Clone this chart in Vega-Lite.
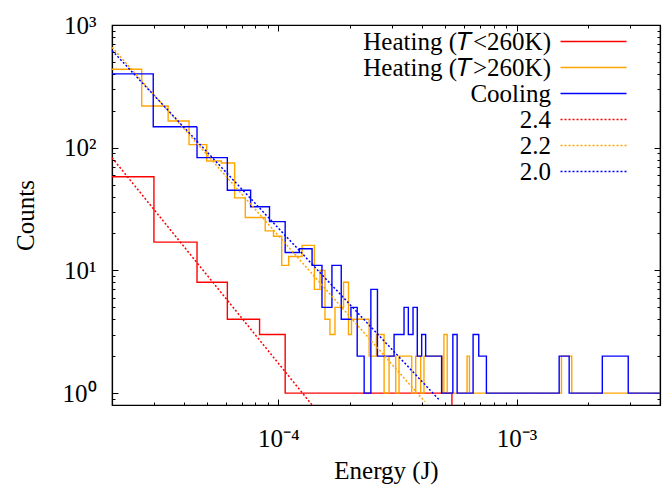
{
  "$schema": "https://vega.github.io/schema/vega-lite/v6.json",
  "width": 548,
  "height": 380,
  "autosize": "none",
  "padding": {"left": 112, "top": 25, "right": 9, "bottom": 80},
  "background": "white",
  "config": {
    "font": "Liberation Serif",
    "view": {"stroke": "black", "strokeWidth": 1.2},
    "axis": {
      "grid": false,
      "domainColor": "black",
      "domainWidth": 1.2,
      "tickColor": "black",
      "tickWidth": 1,
      "labelColor": "black",
      "titleColor": "black",
      "labelFont": "Liberation Serif",
      "titleFont": "Liberation Serif",
      "labelFontSize": 25,
      "titleFontSize": 25,
      "titleFontWeight": "normal",
      "labelFlush": false,
      "labelOverlap": false,
      "labelBound": false
    }
  },
  "datasets": {
    "hist": [
      {"series": "Heating (𝑇<260K)", "energy": 2.0e-5, "count": 58},
      {"series": "Heating (𝑇<260K)", "energy": 3.0e-5, "count": 17},
      {"series": "Heating (𝑇<260K)", "energy": 4.55e-5, "count": 8},
      {"series": "Heating (𝑇<260K)", "energy": 6.10e-5, "count": 4},
      {"series": "Heating (𝑇<260K)", "energy": 8.33e-5, "count": 3},
      {"series": "Heating (𝑇<260K)", "energy": 1.067e-4, "count": 1},
      {"series": "Heating (𝑇<260K)", "energy": 5.35e-4, "count": 0},

      {"series": "Heating (𝑇>260K)", "energy": 2.0e-5, "count": 436},
      {"series": "Heating (𝑇>260K)", "energy": 2.665e-5, "count": 219},
      {"series": "Heating (𝑇>260K)", "energy": 3.441e-5, "count": 165},
      {"series": "Heating (𝑇>260K)", "energy": 4.213e-5, "count": 106},
      {"series": "Heating (𝑇>260K)", "energy": 4.997e-5, "count": 78},
      {"series": "Heating (𝑇>260K)", "energy": 5.758e-5, "count": 75},
      {"series": "Heating (𝑇>260K)", "energy": 6.545e-5, "count": 39},
      {"series": "Heating (𝑇>260K)", "energy": 7.256e-5, "count": 27},
      {"series": "Heating (𝑇>260K)", "energy": 8.799e-5, "count": 21},
      {"series": "Heating (𝑇>260K)", "energy": 9.53e-5, "count": 19},
      {"series": "Heating (𝑇>260K)", "energy": 1.032e-4, "count": 11},
      {"series": "Heating (𝑇>260K)", "energy": 1.104e-4, "count": 13},
      {"series": "Heating (𝑇>260K)", "energy": 1.257e-4, "count": 16},
      {"series": "Heating (𝑇>260K)", "energy": 1.415e-4, "count": 7},
      {"series": "Heating (𝑇>260K)", "energy": 1.494e-4, "count": 10},
      {"series": "Heating (𝑇>260K)", "energy": 1.568e-4, "count": 4},
      {"series": "Heating (𝑇>260K)", "energy": 1.645e-4, "count": 3},
      {"series": "Heating (𝑇>260K)", "energy": 1.727e-4, "count": 5},
      {"series": "Heating (𝑇>260K)", "energy": 1.876e-4, "count": 8},
      {"series": "Heating (𝑇>260K)", "energy": 1.968e-4, "count": 3},
      {"series": "Heating (𝑇>260K)", "energy": 2.026e-4, "count": 4},
      {"series": "Heating (𝑇>260K)", "energy": 2.403e-4, "count": 2},
      {"series": "Heating (𝑇>260K)", "energy": 2.578e-4, "count": 3},
      {"series": "Heating (𝑇>260K)", "energy": 2.777e-4, "count": 1},
      {"series": "Heating (𝑇>260K)", "energy": 2.914e-4, "count": 2},
      {"series": "Heating (𝑇>260K)", "energy": 3.108e-4, "count": 1},
      {"series": "Heating (𝑇>260K)", "energy": 3.208e-4, "count": 2},
      {"series": "Heating (𝑇>260K)", "energy": 3.627e-4, "count": 1},
      {"series": "Heating (𝑇>260K)", "energy": 3.770e-4, "count": 2},
      {"series": "Heating (𝑇>260K)", "energy": 3.955e-4, "count": 1},
      {"series": "Heating (𝑇>260K)", "energy": 4.083e-4, "count": 2},
      {"series": "Heating (𝑇>260K)", "energy": 4.870e-4, "count": 1},
      {"series": "Heating (𝑇>260K)", "energy": 4.951e-4, "count": 3},
      {"series": "Heating (𝑇>260K)", "energy": 5.110e-4, "count": 1},
      {"series": "Heating (𝑇>260K)", "energy": 6.194e-4, "count": 2},
      {"series": "Heating (𝑇>260K)", "energy": 6.340e-4, "count": 1},
      {"series": "Heating (𝑇>260K)", "energy": 1.543e-3, "count": 2},
      {"series": "Heating (𝑇>260K)", "energy": 1.704e-3, "count": 1},
      {"series": "Heating (𝑇>260K)", "energy": 4.0e-3, "count": 1},

      {"series": "Cooling", "energy": 2.0e-5, "count": 400},
      {"series": "Cooling", "energy": 2.98e-5, "count": 148},
      {"series": "Cooling", "energy": 4.55e-5, "count": 83},
      {"series": "Cooling", "energy": 6.10e-5, "count": 45},
      {"series": "Cooling", "energy": 7.64e-5, "count": 33},
      {"series": "Cooling", "energy": 9.17e-5, "count": 25},
      {"series": "Cooling", "energy": 1.067e-4, "count": 14},
      {"series": "Cooling", "energy": 1.224e-4, "count": 15},
      {"series": "Cooling", "energy": 1.384e-4, "count": 11},
      {"series": "Cooling", "energy": 1.523e-4, "count": 5},
      {"series": "Cooling", "energy": 1.677e-4, "count": 11},
      {"series": "Cooling", "energy": 1.835e-4, "count": 4},
      {"series": "Cooling", "energy": 2.015e-4, "count": 5},
      {"series": "Cooling", "energy": 2.141e-4, "count": 2},
      {"series": "Cooling", "energy": 2.290e-4, "count": 1},
      {"series": "Cooling", "energy": 2.443e-4, "count": 7},
      {"series": "Cooling", "energy": 2.604e-4, "count": 2},
      {"series": "Cooling", "energy": 3.058e-4, "count": 3},
      {"series": "Cooling", "energy": 3.367e-4, "count": 5},
      {"series": "Cooling", "energy": 3.510e-4, "count": 3},
      {"series": "Cooling", "energy": 3.673e-4, "count": 5},
      {"series": "Cooling", "energy": 3.827e-4, "count": 2},
      {"series": "Cooling", "energy": 3.993e-4, "count": 3},
      {"series": "Cooling", "energy": 4.150e-4, "count": 2},
      {"series": "Cooling", "energy": 4.842e-4, "count": 1},
      {"series": "Cooling", "energy": 5.398e-4, "count": 3},
      {"series": "Cooling", "energy": 5.626e-4, "count": 1},
      {"series": "Cooling", "energy": 6.565e-4, "count": 3},
      {"series": "Cooling", "energy": 6.934e-4, "count": 2},
      {"series": "Cooling", "energy": 7.467e-4, "count": 1},
      {"series": "Cooling", "energy": 1.509e-3, "count": 2},
      {"series": "Cooling", "energy": 1.662e-3, "count": 1},
      {"series": "Cooling", "energy": 2.290e-3, "count": 2},
      {"series": "Cooling", "energy": 2.942e-3, "count": 1},
      {"series": "Cooling", "energy": 4.0e-3, "count": 1}
    ],
    "fit": [
      {"series": "2.4", "energy": 2.0e-5, "count": 83},
      {"series": "2.4", "energy": 1.384e-4, "count": 0.8},
      {"series": "2.2", "energy": 2.0e-5, "count": 660},
      {"series": "2.2", "energy": 4.12e-4, "count": 0.85},
      {"series": "2.0", "energy": 2.0e-5, "count": 620},
      {"series": "2.0", "energy": 4.76e-4, "count": 0.87}
    ]
  },
  "layer": [
    {
      "data": {"name": "hist"},
      "mark": {"type": "line", "interpolate": "step-after", "strokeWidth": 1.4, "invalid": "show"},
      "encoding": {
        "x": {
          "field": "energy", "type": "quantitative",
          "scale": {"type": "log", "domain": [2e-5, 4e-3], "nice": false, "clamp": true},
          "axis": {
            "orient": "bottom",
            "title": "Energy (J)",
            "titlePadding": 4,
            "values": [2e-5,3e-5,4e-5,5e-5,6e-5,7e-5,8e-5,9e-5,1e-4,2e-4,3e-4,4e-4,5e-4,6e-4,7e-4,8e-4,9e-4,1e-3,2e-3,3e-3,4e-3],
            "labelExpr": "datum.value == 0.0001 ? '10⁻⁴' : datum.value == 0.001 ? '10⁻³' : ''",
            "tickSize": {"condition": {"test": "datum.value == 0.0001 || datum.value == 0.001", "value": -6}, "value": -3},
            "labelPadding": 27
          }
        },
        "y": {
          "field": "count", "type": "quantitative",
          "scale": {"type": "log", "domain": [0.8, 1000], "nice": false, "clamp": true},
          "axis": {
            "orient": "left",
            "title": "Counts",
            "titlePadding": 24,
            "values": [0.8,0.9,1,2,3,4,5,6,7,8,9,10,20,30,40,50,60,70,80,90,100,200,300,400,500,600,700,800,900,1000],
            "labelExpr": "datum.value == 1 ? '10⁰' : datum.value == 10 ? '10¹' : datum.value == 100 ? '10²' : datum.value == 1000 ? '10³' : ''",
            "tickSize": {"condition": {"test": "datum.value == 1 || datum.value == 10 || datum.value == 100 || datum.value == 1000", "value": -6}, "value": -3},
            "labelPadding": 22
          }
        },
        "color": {
          "field": "series", "type": "nominal",
          "scale": {
            "domain": ["Heating (𝑇<260K)", "Heating (𝑇>260K)", "Cooling", "2.4", "2.2", "2.0"],
            "range": ["#ff0000", "#ffa500", "#0000ff", "#ff0000", "#ffa500", "#0000ff"]
          },
          "legend": {
            "title": null, "orient": "none", "legendX": 469, "legendY": 4,
            "symbolType": "M-6.6,0H6.6", "symbolSize": 100, "symbolStrokeWidth": 1.5,
            "labelAlign": "right", "labelOffset": -55, "symbolOffset": 0,
            "labelFontSize": 25, "labelFont": "Liberation Serif", "labelColor": "black",
            "labelLimit": 0, "rowPadding": -0.7, "padding": 0
          }
        },
        "strokeDash": {
          "field": "series", "type": "nominal",
          "scale": {
            "domain": ["Heating (𝑇<260K)", "Heating (𝑇>260K)", "Cooling", "2.4", "2.2", "2.0"],
            "range": [[1, 0], [1, 0], [1, 0], [2, 2], [2, 2], [2, 2]]
          },
          "legend": {
            "title": null, "orient": "none", "legendX": 469, "legendY": 4,
            "symbolType": "M-6.6,0H6.6", "symbolSize": 100, "symbolStrokeWidth": 1.5,
            "labelAlign": "right", "labelOffset": -55, "symbolOffset": 0,
            "labelFontSize": 25, "labelFont": "Liberation Serif", "labelColor": "black",
            "labelLimit": 0, "rowPadding": -0.7, "padding": 0
          }
        }
      }
    },
    {
      "data": {"name": "fit"},
      "mark": {"type": "line", "strokeWidth": 1.5},
      "encoding": {
        "x": {
          "field": "energy", "type": "quantitative",
          "axis": {
            "orient": "top", "title": null, "labels": false,
            "values": [2e-5,3e-5,4e-5,5e-5,6e-5,7e-5,8e-5,9e-5,1e-4,2e-4,3e-4,4e-4,5e-4,6e-4,7e-4,8e-4,9e-4,1e-3,2e-3,3e-3,4e-3],
            "tickSize": {"condition": {"test": "datum.value == 0.0001 || datum.value == 0.001", "value": -6}, "value": -3}
          }
        },
        "y": {
          "field": "count", "type": "quantitative",
          "axis": {
            "orient": "right", "title": null, "labels": false,
            "values": [0.8,0.9,1,2,3,4,5,6,7,8,9,10,20,30,40,50,60,70,80,90,100,200,300,400,500,600,700,800,900,1000],
            "tickSize": {"condition": {"test": "datum.value == 1 || datum.value == 10 || datum.value == 100 || datum.value == 1000", "value": -6}, "value": -3}
          }
        },
        "color": {"field": "series", "type": "nominal"},
        "strokeDash": {"field": "series", "type": "nominal"}
      }
    }
  ],
  "resolve": {"axis": {"x": "independent", "y": "independent"}}
}
